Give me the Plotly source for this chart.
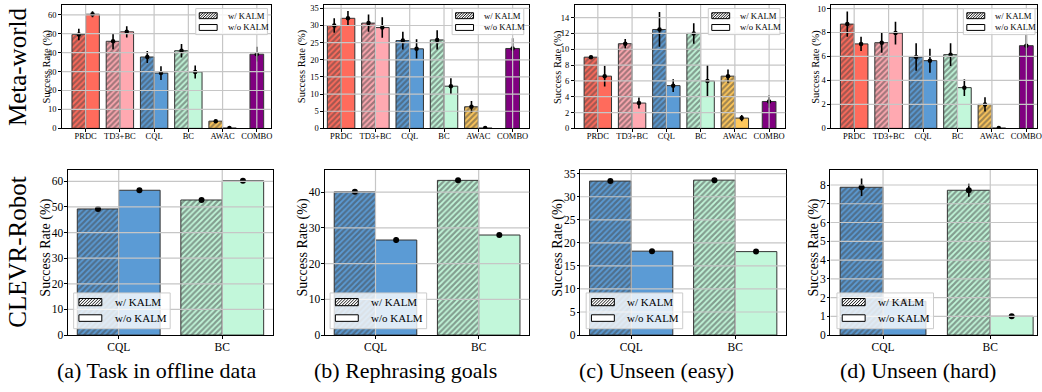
import plotly.graph_objects as go

W, H = 1042, 392
FONT = "Liberation Serif"

# ---------------- data ----------------
methods = ["PRDC", "TD3+BC", "CQL", "BC", "AWAC", "COMBO"]
method_colors = ["#FF6B5C", "#FFA9B1", "#5B9BD5", "#C2F7DA", "#FFC85C", "#800080"]

# Meta-world (a) task in offline data
mw_a_with = [49.6, 46.0, 37.7, 41.0, 3.8, None]
mw_a_with_err = [3.0, 4.2, 3.2, 3.6, 0.7, None]
mw_a_wo = [60.3, 51.0, 29.2, 29.8, 0.2, 39.2]
mw_a_wo_err = [1.6, 3.0, 3.6, 3.4, 0.2, 3.9]
# Meta-world (b) rephrasing goals
mw_b_with = [30.0, 30.7, 25.6, 25.8, 6.3, None]
mw_b_with_err = [2.1, 2.5, 2.6, 2.8, 1.7, None]
mw_b_wo = [32.1, 29.4, 23.2, 12.3, 0.1, 23.3]
mw_b_wo_err = [2.1, 3.0, 2.8, 2.3, 0.1, 3.0]
# Meta-world (c) unseen (easy)
mw_c_with = [9.0, 10.7, 12.5, 12.0, 6.6, None]
mw_c_with_err = [0.2, 0.6, 2.2, 1.3, 0.85, None]
mw_c_wo = [6.6, 3.2, 5.4, 6.0, 1.3, 3.4]
mw_c_wo_err = [1.3, 0.7, 0.8, 2.0, 0.4, 0.8]
# Meta-world (d) unseen (hard)
mw_d_with = [8.7, 7.15, 5.95, 6.15, 2.0, None]
mw_d_with_err = [1.05, 0.85, 1.15, 0.95, 0.6, None]
mw_d_wo = [7.05, 7.95, 5.65, 3.4, 0.03, 6.9]
mw_d_wo_err = [0.6, 0.95, 1.0, 0.7, 0.03, 0.9]

clevr_methods = ["CQL", "BC"]
clevr_colors = ["#5B9BD5", "#C2F7DA"]
cl_a_with = [49.2, 52.7]
cl_a_with_err = [0.7, 0.3]
cl_a_wo = [56.5, 60.2]
cl_a_wo_err = [0.4, 0.6]
cl_b_with = [40.1, 43.3]
cl_b_with_err = [0.5, 0.4]
cl_b_wo = [26.6, 28.0]
cl_b_wo_err = [0.8, 0.2]
cl_c_with = [33.4, 33.6]
cl_c_with_err = [0.2, 0.2]
cl_c_wo = [18.2, 18.1]
cl_c_wo_err = [0.1, 0.1]
cl_d_with = [7.88, 7.72]
cl_d_with_err = [0.47, 0.35]
cl_d_wo = [1.8, 1.0]
cl_d_wo_err = [0.1, 0.05]

top_yticks = [[0, 10, 20, 30, 40, 50, 60], [0, 5, 10, 15, 20, 25, 30, 35],
              [0, 2, 4, 6, 8, 10, 12, 14], [0, 2, 4, 6, 8, 10]]
bot_yticks = [[0, 10, 20, 30, 40, 50, 60], [0, 10, 20, 30, 40],
              [0, 5, 10, 15, 20, 25, 30, 35], [0, 1, 2, 3, 4, 5, 6, 7, 8]]

captions = ["(a) Task in offline data", "(b) Rephrasing goals", "(c) Unseen (easy)", "(d) Unseen (hard)"]
row_labels = ["Meta-world", "CLEVR-Robot"]
legend_labels = ["w/ KALM", "w/o KALM"]

# ---------------- geometry (pixels) ----------------
top_dom = [(62, 272.5), (325.5, 532), (577.3, 789), (835, 1042)]
top_xr = [(-0.70, 5.42), (-0.50, 5.49), (-0.68, 5.47), (-0.673, 5.31)]
top_ymax = [65.2, 36.0, 15.6, 10.3]
top_ytitle_x = [47, 303, 560, 820]
top_leg_left = [196.7, 454.3, 711.7, 968]
top_row = (3, 129)

bot_dom = [(68.3, 274.3), (326.5, 531.8), (583, 790), (834.5, 1042)]
bot_xr = [(-0.49, 1.49), (-0.49, 1.49), (-0.49, 1.49), (-0.49, 1.436)]
bot_ymax = [64.4, 46.2, 35.8, 8.8]
bot_ytitle_x = [46, 304, 560.5, 817.5]
bot_leg_left = [74, 331.7, 589, 841]
bot_row = (171.5, 340)

caption_x = [157.5, 407.5, 659.5, 922.5]


def fx(p):
    return p / W


def fy(p):
    return 1 - p / H


fig = go.Figure()
shapes = []
annotations = []
layout_axes = {}
EDGE = "#333333"
GRID = "#C6C6C6"


def add_panel(k, dom, rowpx, xr, ymax, yticks, cats, colors, wv, we, ov, oe,
              tickfs, dotsize, ytitle_x, ytitle_y, ytitle_fs, xstandoff, ystandoff):
    xa = "x" if k == 1 else f"x{k}"
    ya = "y" if k == 1 else f"y{k}"
    xk = "xaxis" if k == 1 else f"xaxis{k}"
    yk = "yaxis" if k == 1 else f"yaxis{k}"
    xw, yw, cw = [], [], []
    xo, yo, co = [], [], []
    ex, ey, ee = [], [], []
    for i in range(len(cats)):
        if wv[i] is not None:
            xw.append(i - 0.2); yw.append(wv[i]); cw.append(colors[i])
            ex.append(i - 0.2); ey.append(wv[i]); ee.append(we[i])
        if ov[i] is not None:
            pos = i + 0.2 if wv[i] is not None else i
            xo.append(pos); yo.append(ov[i]); co.append(colors[i])
            ex.append(pos); ey.append(ov[i]); ee.append(oe[i])
    fig.add_trace(go.Bar(
        x=xw, y=yw, width=0.4, xaxis=xa, yaxis=ya, showlegend=False,
        marker=dict(color=cw, line=dict(color=EDGE, width=1),
                    pattern=dict(shape="/", fgcolor="black", size=4, solidity=0.55,
                                 fillmode="overlay")),
        hoverinfo="skip"))
    fig.add_trace(go.Bar(
        x=xo, y=yo, width=0.4, xaxis=xa, yaxis=ya, showlegend=False,
        marker=dict(color=co, line=dict(color=EDGE, width=1)), hoverinfo="skip"))
    fig.add_trace(go.Scatter(
        x=ex, y=ey, mode="markers", xaxis=xa, yaxis=ya, showlegend=False,
        marker=dict(color="black", size=dotsize),
        error_y=dict(type="data", array=ee, color="black", thickness=1.6, width=0),
        hoverinfo="skip"))
    axis_common = dict(showgrid=False, zeroline=False, showline=True, linecolor="black",
                       linewidth=1, mirror=True, ticks="outside", ticklen=2.5,
                       tickcolor="black", tickwidth=1,
                       tickfont=dict(family=FONT, size=tickfs, color="black"))
    layout_axes[xk] = dict(domain=[fx(dom[0]), fx(dom[1])], range=list(xr), anchor=ya,
                           tickmode="array", tickvals=list(range(len(cats))), ticktext=cats,
                           ticklabeloverflow="allow", ticklabelstandoff=xstandoff, **axis_common)
    layout_axes[yk] = dict(domain=[fy(rowpx[1]), fy(rowpx[0])], range=[0, ymax], anchor=xa,
                           tickmode="array", tickvals=yticks, ticktext=[str(t) for t in yticks],
                           ticklabelstandoff=ystandoff, **axis_common)
    # grid lines above bars (matplotlib default draws grid over patches)
    for t in yticks:
        if t == 0:
            continue
        shapes.append(dict(type="line", xref=f"{xa} domain", yref=ya, x0=0, x1=1, y0=t, y1=t,
                           line=dict(color=GRID, width=1.2), layer="above"))
    for i in range(len(cats)):
        shapes.append(dict(type="line", xref=xa, yref=f"{ya} domain", x0=i, x1=i, y0=0, y1=1,
                           line=dict(color=GRID, width=1.2), layer="above"))
    annotations.append(dict(text="Success Rate (%)", x=fx(ytitle_x), y=fy(ytitle_y),
                            xref="paper", yref="paper", textangle=-90, showarrow=False,
                            xanchor="center", yanchor="middle",
                            font=dict(family=FONT, size=ytitle_fs, color="black")))


def hatch_path(x0, y0, x1, y1, step):
    segs = []
    c = x0 + y0 + step / 2
    while c < x1 + y1:
        xa = max(x0, c - y1)
        xb = min(x1, c - y0)
        if xb > xa:
            segs.append(f"M{fx(xa):.5f},{fy(c - xa):.5f}L{fx(xb):.5f},{fy(c - xb):.5f}")
        c += step
    return "".join(segs)


def add_legend(left, top, w, h, pdx0, pdx1, rows, tdx, fs, step):
    shapes.append(dict(type="rect", xref="paper", yref="paper", x0=fx(left), x1=fx(left + w),
                       y0=fy(top + h), y1=fy(top), fillcolor="rgba(255,255,255,0.8)",
                       line=dict(color="#CCCCCC", width=1), layer="above"))
    for j, (py0, py1) in enumerate(rows):
        px0, px1 = left + pdx0, left + pdx1
        shapes.append(dict(type="rect", xref="paper", yref="paper", x0=fx(px0), x1=fx(px1),
                           y0=fy(py1), y1=fy(py0), fillcolor="white",
                           line=dict(color="black", width=1), layer="above"))
        if j == 0:
            shapes.append(dict(type="path", xref="paper", yref="paper",
                               path=hatch_path(px0, py0, px1, py1, step),
                               line=dict(color="black", width=0.9), layer="above"))
        annotations.append(dict(text=legend_labels[j], x=fx(left + tdx), y=fy((py0 + py1) / 2),
                                xref="paper", yref="paper", showarrow=False,
                                xanchor="left", yanchor="middle",
                                font=dict(family=FONT, size=fs, color="black")))


top_data = [(mw_a_with, mw_a_with_err, mw_a_wo, mw_a_wo_err),
            (mw_b_with, mw_b_with_err, mw_b_wo, mw_b_wo_err),
            (mw_c_with, mw_c_with_err, mw_c_wo, mw_c_wo_err),
            (mw_d_with, mw_d_with_err, mw_d_wo, mw_d_wo_err)]
bot_data = [(cl_a_with, cl_a_with_err, cl_a_wo, cl_a_wo_err),
            (cl_b_with, cl_b_with_err, cl_b_wo, cl_b_wo_err),
            (cl_c_with, cl_c_with_err, cl_c_wo, cl_c_wo_err),
            (cl_d_with, cl_d_with_err, cl_d_wo, cl_d_wo_err)]

for p in range(4):
    wv, we, ov, oe = top_data[p]
    add_panel(p + 1, top_dom[p], top_row, top_xr[p], top_ymax[p], top_yticks[p],
              methods, method_colors, wv, we, ov, oe, 8.5, 4.5, top_ytitle_x[p], 66, 10.5, -3, 0)
for p in range(4):
    wv, we, ov, oe = bot_data[p]
    add_panel(p + 5, bot_dom[p], bot_row, bot_xr[p], bot_ymax[p], bot_yticks[p],
              clevr_methods, clevr_colors, wv, we, ov, oe, 11.5, 6, bot_ytitle_x[p], 251, 14, -1, -1)

for p in range(4):
    add_legend(top_leg_left[p], 6.7, 72, 26.6, 3.5, 21.5, [(11, 17), (23, 29)], 30, 8.7, 2.6)
for p in range(4):
    add_legend(bot_leg_left[p], 297, 97, 36.5, 5.3, 28.3, [(302.7, 310), (319.3, 326)], 39.3, 11, 3.0)

for p in range(4):
    annotations.append(dict(text=captions[p], x=fx(caption_x[p]), y=fy(376), xref="paper", yref="paper",
                            showarrow=False, xanchor="center", yanchor="middle",
                            font=dict(family=FONT, size=22, color="black")))

for r, yc in enumerate([66, 255.5]):
    annotations.append(dict(text=row_labels[r], x=fx(17.5), y=fy(yc), xref="paper", yref="paper",
                            textangle=-90, showarrow=False, xanchor="center", yanchor="middle",
                            font=dict(family=FONT, size=25, color="black")))

fig.update_layout(width=W, height=H, margin=dict(l=0, r=0, t=0, b=0),
                  paper_bgcolor="white", plot_bgcolor="white", barmode="overlay",
                  showlegend=False, shapes=shapes, annotations=annotations, **layout_axes)

fig.write_html("out.html", config={"displayModeBar": False, "staticPlot": True},
               post_script="document.body.style.margin='0';document.body.style.padding='0';"
                           "document.body.style.overflow='hidden';")
